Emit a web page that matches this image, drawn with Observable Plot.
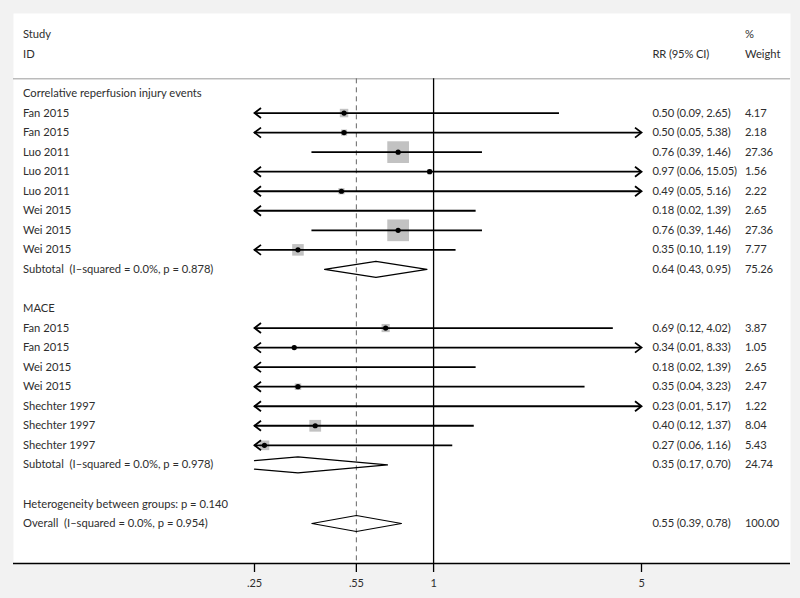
<!DOCTYPE html>
<html><head><meta charset="utf-8">
<script src="https://cdn.jsdelivr.net/npm/d3@7"></script>
<script src="https://cdn.jsdelivr.net/npm/@observablehq/plot@0.6"></script>
<style>
html,body{margin:0;padding:0;background:#f2f2f2;}
#chart svg{display:block;}
#chart svg g[font-variant="tabular-nums"] text{letter-spacing:-0.15px;}
</style></head><body><div id="chart"></div>
<script>
// ---- data ----
const groupNames = ["Correlative reperfusion injury events", "MACE"];
const studyIds = ["Fan 2015","Fan 2015","Luo 2011","Luo 2011","Luo 2011","Wei 2015","Wei 2015","Wei 2015",
                  "Fan 2015","Fan 2015","Wei 2015","Wei 2015","Shechter 1997","Shechter 1997","Shechter 1997"];
const studyGroup = [0,0,0,0,0,0,0,0, 1,1,1,1,1,1,1];
const rr     = [0.50,0.50,0.76,0.97,0.49,0.18,0.76,0.35, 0.69,0.34,0.18,0.35,0.23,0.40,0.27];
const ciLow  = [0.09,0.05,0.39,0.06,0.05,0.02,0.39,0.10, 0.12,0.01,0.02,0.04,0.01,0.12,0.06];
const ciHigh = [2.65,5.38,1.46,15.05,5.16,1.39,1.46,1.19, 4.02,8.33,1.39,3.23,5.17,1.37,1.16];
const weight = [4.17,2.18,27.36,1.56,2.22,2.65,27.36,7.77, 3.87,1.05,2.65,2.47,1.22,8.04,5.43];
const subtotalLabels = ["Subtotal\u00a0 (I\u2013squared = 0.0%, p = 0.878)", "Subtotal\u00a0 (I\u2013squared = 0.0%, p = 0.978)"];
const subtotalRR = [0.64, 0.35];
const subtotalLow = [0.43, 0.17];
const subtotalHigh = [0.95, 0.70];
const subtotalWeight = [75.26, 24.74];
const heterogeneityLabel = "Heterogeneity between groups: p = 0.140";
const overallLabel = "Overall\u00a0 (I\u2013squared = 0.0%, p = 0.954)";
const overallRR = 0.55, overallLow = 0.39, overallHigh = 0.78, overallWeight = 100.00;
const xTicks = [0.25, 0.55, 1, 5];
const xTickLabels = [".25", ".55", "1", "5"];
const xMin = 0.25, xMax = 5, nullValue = 1;

// ---- build rows ----
const fmt = v => v.toFixed(2);
const rows = [];
let r = 0;
groupNames.forEach((g, gi) => {
  rows.push({row: r++, label: g, kind: "group"});
  studyIds.forEach((s, i) => {
    if (studyGroup[i] !== gi) return;
    rows.push({row: r++, label: s, kind: "study", est: rr[i], lo: ciLow[i], hi: ciHigh[i], w: weight[i],
      ci: `${fmt(rr[i])} (${fmt(ciLow[i])}, ${fmt(ciHigh[i])})`, wt: fmt(weight[i])});
  });
  rows.push({row: r++, label: subtotalLabels[gi], kind: "sub", est: subtotalRR[gi], lo: subtotalLow[gi], hi: subtotalHigh[gi],
    ci: `${fmt(subtotalRR[gi])} (${fmt(subtotalLow[gi])}, ${fmt(subtotalHigh[gi])})`, wt: fmt(subtotalWeight[gi])});
  r++; // blank row
});
rows.push({row: r++, label: heterogeneityLabel, kind: "het"});
rows.push({row: r++, label: overallLabel, kind: "sub", est: overallRR, lo: overallLow, hi: overallHigh,
  ci: `${fmt(overallRR)} (${fmt(overallLow)}, ${fmt(overallHigh)})`, wt: fmt(overallWeight)});
const lastRow = r - 1;

const studies = rows.filter(d => d.kind === "study");
const inRange = d => d.est >= xMin && d.est <= xMax;
const ciSegs = studies.map(d => ({row: d.row, x1: Math.max(d.lo, xMin), x2: Math.min(d.hi, xMax)}));
const leftArrows = studies.filter(d => d.lo < xMin);
const rightArrows = studies.filter(d => d.hi > xMax);

// diamonds (clipped to the axis range in log space)
const H = 0.41;
const L = Math.log;
function diamond(d) {
  const pts = [];
  const frac = d.lo < xMin ? (L(xMin) - L(d.lo)) / (L(d.est) - L(d.lo)) : 0;
  pts.push([Math.max(d.lo, xMin), -H * frac]);
  pts.push([d.est, -H]);
  pts.push([d.hi, 0]);
  pts.push([d.est, H]);
  pts.push([Math.max(d.lo, xMin), H * frac]);
  return pts.map(([x, dy]) => ({x, y: d.row + dy, id: d.row}));
}
const diamonds = rows.filter(d => d.kind === "sub").flatMap(diamond);

// layout helpers
const rowTop = 93, rowBottom = 523;
const step = (rowBottom - rowTop) / lastRow;
const frameBottom = 563;
const bottomRow = lastRow + (frameBottom - rowBottom) / step;
const headerLineRow = -0.75;

const arrowLeft = {draw(ctx) { ctx.moveTo(6.5, -5); ctx.lineTo(0, 0); ctx.lineTo(6.5, 5); }};
const arrowRight = {draw(ctx) { ctx.moveTo(-6.5, -5); ctx.lineTo(0, 0); ctx.lineTo(-6.5, 5); }};

const textColor = "#2e2e2e";
const fs = 11.2;
const plot = Plot.plot({
  width: 800, height: 598,
  marginLeft: 13, marginRight: 10, marginTop: 13, marginBottom: 598 - frameBottom,
  style: {background: "transparent", fontFamily: "Lato, sans-serif", fontSize: fs + "px", color: textColor},
  x: {type: "log", domain: [xMin, xMax], range: [254, 641]},
  y: {domain: [0, lastRow], range: [rowTop, rowBottom], axis: null},
  r: {type: "sqrt", domain: [0, 100], range: [0, 23.4]},
  marks: [
    Plot.frame({fill: "white", stroke: "none"}),
    Plot.ruleY([headerLineRow], {stroke: "#9a9a9a", strokeWidth: 1}),
    Plot.ruleX([overallRR], {y1: headerLineRow, y2: bottomRow, stroke: "#666", strokeWidth: 1, strokeDasharray: "5,4"}),
    Plot.ruleX([nullValue], {y1: headerLineRow, y2: bottomRow, stroke: "black", strokeWidth: 1.3}),
    // weight boxes
    Plot.dot(studies.filter(inRange), {x: "est", y: "row", r: "w", symbol: "square", fill: "#c2c2c2", stroke: "none"}),
    // confidence intervals
    Plot.ruleY(ciSegs, {y: "row", x1: "x1", x2: "x2", stroke: "black", strokeWidth: 1.8}),
    Plot.dot(leftArrows, {x: () => xMin, y: "row", symbol: arrowLeft, fill: "none", stroke: "black", strokeWidth: 1.8}),
    Plot.dot(rightArrows, {x: () => xMax, y: "row", symbol: arrowRight, fill: "none", stroke: "black", strokeWidth: 1.8}),
    Plot.dot(studies.filter(inRange), {x: "est", y: "row", r: 2.6, fill: "black", stroke: "none"}),
    // diamonds
    Plot.line(diamonds, {x: "x", y: "y", z: "id", stroke: "black", strokeWidth: 1.2, curve: "linear"}),
    // text columns
    Plot.text(["Study", "ID"], {y: (d, i) => -3 + i, text: d => d, frameAnchor: "left", dx: 9.5, textAnchor: "start", fill: textColor}),
    Plot.text(["RR (95% CI)"], {y: () => -2, text: d => d, frameAnchor: "right", dx: -138, textAnchor: "start", fill: textColor, fontVariant: "tabular-nums"}),
    Plot.text(["%", "Weight"], {y: (d, i) => -3 + i, text: d => d, frameAnchor: "right", dx: -45.5, textAnchor: "start", fill: textColor}),
    Plot.text(rows, {y: "row", text: "label", frameAnchor: "left", dx: 9.5, textAnchor: "start", fill: textColor}),
    Plot.text(rows.filter(d => d.ci), {y: "row", text: "ci", frameAnchor: "right", dx: -138, textAnchor: "start", fill: textColor, fontVariant: "tabular-nums"}),
    Plot.text(rows.filter(d => d.wt), {y: "row", text: "wt", frameAnchor: "right", dx: -45.5, textAnchor: "start", fill: textColor, fontVariant: "tabular-nums"}),
    // axis
    Plot.ruleY([bottomRow], {stroke: "black", strokeWidth: 1.3}),
    Plot.axisX({ticks: xTicks, tickFormat: d => xTickLabels[xTicks.indexOf(d)], tickSize: 9, tickPadding: 7,
      stroke: "black", strokeWidth: 1.3, fill: textColor, fontSize: 11, label: null})
  ]
});
document.getElementById("chart").appendChild(plot);
</script></body></html>
